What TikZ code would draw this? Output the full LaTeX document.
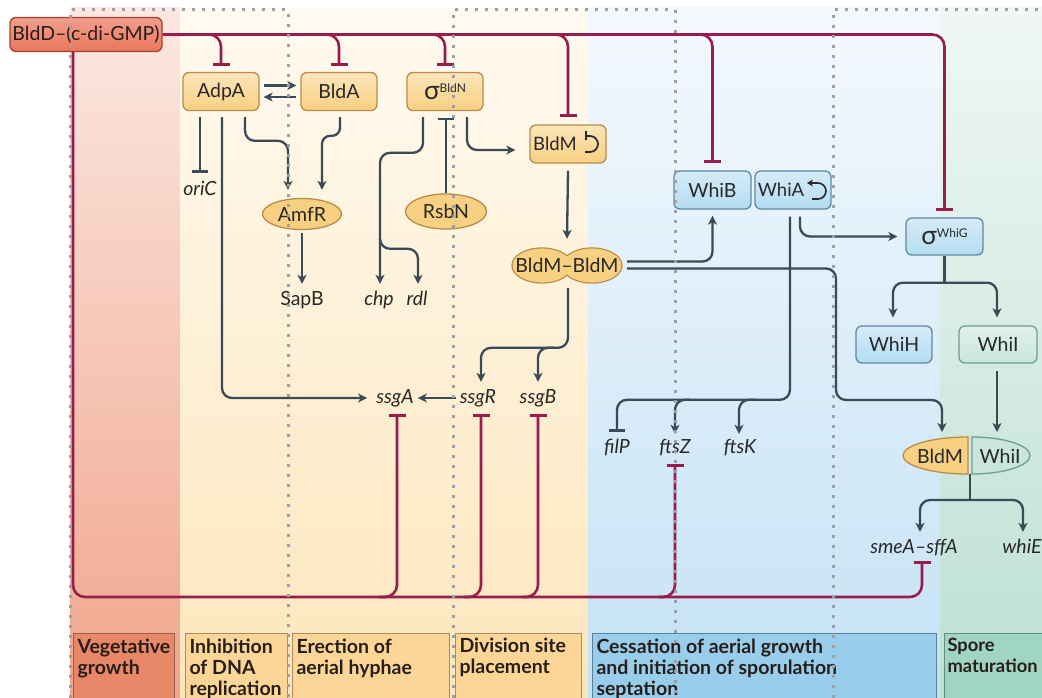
\documentclass[tikz,border=0pt]{standalone}
\usepackage{fontspec}
\setmainfont{Lato}
\usetikzlibrary{arrows.meta,shapes.geometric,calc}
\definecolor{crim}{RGB}{152,28,78}
\definecolor{slate}{RGB}{58,74,86}
\definecolor{ofill}{RGB}{248,208,130}
\definecolor{odraw}{RGB}{186,140,72}
\definecolor{bfill}{RGB}{180,220,242}
\definecolor{bdraw}{RGB}{96,136,158}
\definecolor{gfill}{RGB}{200,230,220}
\definecolor{gdraw}{RGB}{112,156,146}
\definecolor{rfill}{RGB}{234,118,92}
\definecolor{rdraw}{RGB}{160,64,46}
\definecolor{txt}{RGB}{40,40,40}
\definecolor{dotc}{RGB}{155,160,166}
\definecolor{vegt}{RGB}{252,232,225}
\definecolor{vegb}{RGB}{240,165,140}
\definecolor{yelt}{RGB}{255,250,240}
\definecolor{yelb}{RGB}{253,230,188}
\definecolor{blut}{RGB}{244,249,253}
\definecolor{blub}{RGB}{196,226,245}
\definecolor{grnt}{RGB}{240,247,244}
\definecolor{grnb}{RGB}{188,224,210}
\definecolor{vegbox}{RGB}{233,135,105}
\definecolor{vegbd}{RGB}{150,95,75}
\definecolor{yelbox}{RGB}{252,214,150}
\definecolor{yelbd}{RGB}{170,140,100}
\definecolor{blubox}{RGB}{152,206,236}
\definecolor{blubd}{RGB}{90,130,150}
\definecolor{grnbox}{RGB}{160,212,196}
\definecolor{grnbd}{RGB}{100,140,130}
\definecolor{labt}{RGB}{40,30,25}
\newcommand\sig[1]{{\fontsize{26}{26}\selectfont σ}\raisebox{7pt}{\fontsize{12}{12}\selectfont #1}}
\newcommand\lbl[2]{\parbox[t][70pt][t]{#1}{\raggedright #2}}
\begin{document}
\begin{tikzpicture}[x=1pt,y=-1pt,
  base/.style={font=\fontsize{19.5}{22}\selectfont, text=txt},
  box/.style={base, rounded corners=6pt, line width=1.3pt, minimum width=76pt, minimum height=38pt, inner sep=0pt},
  obox/.style={box, top color=ofill!55!white, bottom color=ofill, draw=odraw},
  bbox/.style={box, top color=bfill!55!white, bottom color=bfill, draw=bdraw},
  gbox/.style={box, top color=gfill!55!white, bottom color=gfill, draw=gdraw},
  oell/.style={base, ellipse, fill=ofill, draw=odraw, line width=1.3pt, inner sep=0pt},
  gene/.style={font=\fontsize{19.5}{22}\selectfont\itshape, text=txt, inner sep=0pt, text height=13pt, text depth=3pt},
  plain/.style={font=\fontsize{19.5}{22}\selectfont, text=txt, inner sep=0pt, text height=13pt, text depth=3pt},
  ln/.style={draw=slate, line width=2.3pt},
  act/.style={draw=slate, line width=2.3pt, rounded corners=10pt, -{Stealth[length=9pt,width=9pt,inset=2.5pt]}},
  act2/.style={draw=slate, line width=2.3pt, rounded corners=10pt, {Stealth[length=9pt,width=9pt,inset=2.5pt]}-{Stealth[length=9pt,width=9pt,inset=2.5pt]}},
  inh/.style={draw=slate, line width=2.3pt, rounded corners=10pt, -{Bar[width=16pt,line width=2.6pt]}},
  cinh/.style={draw=crim, line width=2.6pt, rounded corners=12pt, -{Bar[width=17pt,line width=3pt]}},
  lab/.style={anchor=north west, font=\fontsize{19.5}{21}\selectfont\bfseries, text=labt, line width=1pt, inner xsep=4pt, inner ysep=5pt},
  dotl/.style={draw=dotc, line width=3pt, dash pattern=on 3pt off 7pt}
]
\useasboundingbox (0,0) rectangle (1042,698);
\clip (0,0) rectangle (1042,698);
% background bands
\shade[top color=vegt, bottom color=vegb] (70,8) rectangle (180,698);
\shade[top color=yelt, bottom color=yelb] (180,8) rectangle (588,698);
\shade[top color=blut, bottom color=blub] (588,8) rectangle (940,698);
\shade[top color=grnt, bottom color=grnb] (940,8) rectangle (1042,698);
% stage labels
\node[lab, fill=vegbox, draw=vegbd] (L1) at (73,633) {\lbl{93pt}{Vegetative\\growth}};
\node[lab, fill=yelbox, draw=yelbd] (L2) at (185,633) {\lbl{94pt}{Inhibition\\of DNA\\replication}};
\node[lab, fill=yelbox, draw=yelbd] (L3) at (292,633) {\lbl{149pt}{Erection of\\aerial hyphae}};
\node[lab, fill=yelbox, draw=yelbd] (L4) at (455,633) {\lbl{118pt}{Division site\\placement}};
\node[lab, fill=blubox, draw=blubd] (L5) at (592,633) {\lbl{336pt}{Cessation of aerial growth\\and initiation of sporulation\\septation}};
\node[lab, fill=grnbox, draw=grnbd, inner xsep=3pt, font=\fontsize{18.3}{21}\selectfont\bfseries] (L6) at (944,633) {\lbl{110pt}{Spore\\maturation}};
% nodes
\node[box, top color=rfill!70!white, bottom color=rfill, draw=rdraw, minimum width=152pt, minimum height=34pt, text=labt] (BldD) at (86,34.5) {BldD–(c-di-GMP)};
\node[obox] (AdpA) at (221,91.5) {AdpA};
\node[obox] (BldA) at (339,91.5) {BldA};
\node[obox] (sBldN) at (445,91.5) {\sig{BldN}};
\node[obox, font=\fontsize{18.5}{22}\selectfont] (BldM) at (568,144) {BldM\kern26pt};
\node[bbox, minimum width=77pt] (WhiB) at (712.5,190) {WhiB};
\node[bbox, font=\fontsize{18.5}{22}\selectfont] (WhiA) at (793,190) {WhiA\kern24pt};
\node[bbox, minimum width=77pt, minimum height=37pt] (sWhiG) at (944.5,236.5) {\sig{WhiG}};
\node[bbox, minimum height=37pt] (WhiH) at (894,344.5) {WhiH};
\node[gbox, minimum width=78pt, minimum height=37pt] (WhiI) at (998,344.5) {WhiI};
\node[oell, minimum width=79pt, minimum height=31pt] (AmfR) at (302,214) {AmfR};
\node[oell, minimum width=81pt, minimum height=35pt] (RsbN) at (446,211.5) {RsbN};
% BldM-BldM dimer
\node[oell, minimum width=60pt, minimum height=35pt] (bb1) at (542,265.5) {};
\node[oell, minimum width=60pt, minimum height=35pt] (bb2) at (592,265.5) {};
\fill[ofill] (542,265.5) ellipse [x radius=29.2, y radius=16.8];
\fill[ofill] (592,265.5) ellipse [x radius=29.2, y radius=16.8];
\node[base, inner sep=0pt, minimum width=110pt, minimum height=35pt] (BB) at (567,265.5) {BldM–BldM};
% BldM-WhiI complex
\draw[fill=ofill, draw=odraw, line width=1.3pt] (968,474) arc[start angle=90,end angle=270,x radius=65,y radius=18.5] -- cycle;
\draw[fill=gfill, draw=gdraw, line width=1.3pt] (972,437) arc[start angle=-90,end angle=90,x radius=58,y radius=18.5] -- cycle;
\node[base] (cBldM) at (940,456) {BldM};
\node[base] (cWhiI) at (1000,456) {WhiI};
% self loops
\draw[txt, line width=1.7pt, -{Bar[width=9pt,line width=1.7pt]}] ($(BldM)+(17,8)$) -- ($(BldM)+(22,8)$) arc[start angle=90,end angle=-90,radius=8] -- ($(BldM)+(17,-8)$);
\draw[txt, line width=1.6pt, -{Stealth[length=6pt,width=7pt]}] ($(WhiA)+(19,9)$) -- ($(WhiA)+(25,9)$) arc[start angle=90,end angle=-90,radius=8] -- ($(WhiA)+(14,-7)$);
% genes
\node[gene] (oriC) at (200,191) {oriC};
\node[plain] (SapB) at (302,300) {SapB};
\node[gene] (chp) at (379,300) {chp};
\node[gene] (rdl) at (417,300) {rdl};
\node[gene] (ssgA) at (395,398) {ssgA};
\node[gene] (ssgR) at (478,398) {ssgR};
\node[gene] (ssgB) at (538,398) {ssgB};
\node[gene] (filP) at (617,448) {filP};
\node[gene] (ftsZ) at (675,448) {ftsZ};
\node[gene] (ftsK) at (740,448) {ftsK};
\node[gene] (smea) at (914,548) {smeA–sffA};
\node[gene] (whiE) at (1022,548) {whiE};
% slate connectors
\draw[act] ($(AdpA.east)+(4,-6)$) -- ($(BldA.west)+(-4,-6)$);
\draw[act] ($(BldA.west)+(-4,5.5)$) -- ($(AdpA.east)+(4,5.5)$);
\draw[inh] ($(AdpA.south -| oriC)+(0,6)$) -- ($(oriC.north)+(0,-10)$);
\draw[act] ($(AdpA.south)+(1,6)$) |- ($(ssgA.west)+(-9,0)$);
\draw[act] ($(AdpA.south)+(24,6)$) |- ($(AmfR.north)+(-14,-57)$) -- ($(AmfR.north)+(-14,-8)$);
\draw[act, rounded corners=8pt] ($(BldA.south)+(1,6)$) |- ($(AmfR.north)+(20,-62)$) -- ($(AmfR.north)+(20,-8)$);
\draw[act] ($(AmfR.south)+(0,3)$) -- ($(SapB.north)+(0,-8)$);
\draw[act] ($(sBldN.south)+(-22,6)$) |- ($(chp.north)+(1,-139)$) -- ($(chp.north)+(1,-8)$);
\draw[act] ($(chp.north)+(1,-52)$) |- ($(rdl.north)+(1,-43)$) -- ($(rdl.north)+(1,-8)$);
\draw[inh] (RsbN.north) -- ($(sBldN.south -| RsbN.north)+(0,6.5)$);
\draw[act] ($(sBldN.south)+(22,6)$) |- ($(BldM.west)+(-14,6)$);
\draw[act] ($(BldM.south)+(0,7)$) -- ($(BB.north)+(0,-9)$);
\draw[act] ($(BB.south)+(1,5)$) |- ($(ssgR.north)+(3,-42)$) -- ($(ssgR.north)+(3,-8)$);
\draw[act] ($(ssgB.north)+(16,-42)$) -| ($(ssgB.north)+(0,-8)$);
\draw[act] ($(ssgR.west)+(-4,0)$) -- ($(ssgA.east)+(4,0)$);
\draw[act] ($(BB.east)+(5,-4)$) -| ($(WhiB.south)+(0,6)$);
\coordinate (j1) at (836,400);
\draw[act] ($(BB.east)+(5,3)$) -| (j1) -| ($(cBldM)+(2,-24)$);
\draw[inh] ($(WhiA.south)+(-3,7)$) |- ($(filP.north)+(0,-40)$) -- ($(filP.north)+(0,-8)$);
\draw[act] ($(ftsZ.north)+(15,-40)$) -| ($(ftsZ.north)+(0,-6)$);
\draw[act] ($(ftsK.north)+(15,-40)$) -| ($(ftsK.north)+(-1,-6)$);
\draw[act] ($(WhiA.south)+(7,7)$) |- ($(sWhiG.west)+(-8,0)$);
\draw[ln] (sWhiG.south) -- ($(sWhiG.south)+(0,27)$);
\draw[act2] ($(WhiH.north)+(-1,-8)$) |- ($(sWhiG.south)+(0,27)$) -| ($(WhiI.north)+(-1,-8)$);
\draw[act] ($(WhiI.south)+(-1,7)$) -- ($(cWhiI)+(-3,-24)$);
\coordinate (cmp) at (970,474);
\draw[ln] (cmp) -- ($(cmp)+(0,26)$);
\draw[act2] ($(smea.north)+(6,-8)$) |- ($(cmp)+(0,26)$) -| ($(whiE.north)+(1,-8)$);
% crimson repression by BldD
\draw[cinh] (BldD.east) -| ($(sWhiG.north)+(0,-6)$);
\draw[cinh] ($(BldD.east -| AdpA.north)+(-17,0)$) -| ($(AdpA.north)+(0,-5.5)$);
\draw[cinh] ($(BldD.east -| BldA.north)+(-17,0)$) -| ($(BldA.north)+(0,-5.5)$);
\draw[cinh] ($(BldD.east -| sBldN.north)+(-17,0)$) -| ($(sBldN.north)+(0,-5.5)$);
\draw[cinh] ($(BldD.east -| BldM.north)+(-17,0)$) -| ($(BldM.north)+(0,-7)$);
\draw[cinh] ($(BldD.east -| WhiB.north)+(-17,0)$) -| ($(WhiB.north)+(0,-7)$);
\coordinate (bl) at (73,597);
\draw[cinh] (BldD.south -| bl) -- (bl) -| ($(smea.south)+(8,5)$);
\draw[cinh] ($(bl -| ssgA.south)+(-16,0)$) -| ($(ssgA.south)+(2,7.5)$);
\draw[cinh] ($(bl -| ssgR.south)+(-14,0)$) -| ($(ssgR.south)+(3,7.5)$);
\draw[cinh] ($(bl -| ssgB.south)+(-16,0)$) -| ($(ssgB.south)+(0,7.5)$);
\draw[cinh] ($(bl -| ftsZ.south)+(-16,0)$) -| ($(ftsZ.south)+(0,7.5)$);
% dotted stage frames
\draw[dotl] (70,698) -- (70,10) -- (288,10) -- (288,698);
\draw[dotl] (453,698) -- (453,10) -- (675,10) -- (675,698);
\draw[dotl] (833,698) -- (833,10) -- (1042,10);
\end{tikzpicture}
\end{document}
